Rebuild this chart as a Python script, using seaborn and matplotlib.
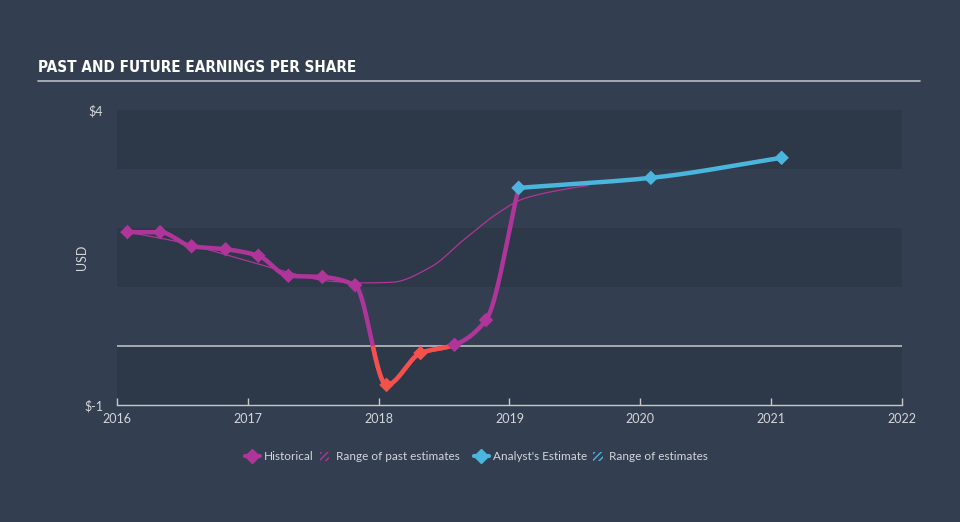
import numpy as np
import pandas as pd
import matplotlib
matplotlib.use("Agg")
import matplotlib.pyplot as plt
from matplotlib.lines import Line2D
from matplotlib.patches import Patch, Rectangle
from matplotlib.legend_handler import HandlerPatch
import seaborn as sns

# ---- data ----
hist_x = [2016.08, 2016.33, 2016.57, 2016.83, 2017.08, 2017.31, 2017.57, 2017.82,
          2018.06, 2018.32, 2018.58, 2018.82, 2019.07]
hist_y = [1.93, 1.93, 1.69, 1.64, 1.53, 1.19, 1.17, 1.03,
          -0.66, -0.12, 0.02, 0.44, 2.68]
est_x = [2019.07, 2020.08, 2021.08]
est_y = [2.68, 2.85, 3.19]
past_range_x = [2016.08, 2016.48, 2016.92, 2017.31, 2017.62, 2017.9, 2018.1,
                2018.4, 2018.65, 2018.91, 2019.1, 2019.43, 2019.6]
past_range_y = [1.93, 1.76, 1.49, 1.25, 1.10, 1.07, 1.08,
                1.34, 1.80, 2.25, 2.49, 2.66, 2.72]
x_ticks = [2016, 2017, 2018, 2019, 2020, 2021, 2022]
y_ticks = [-1, 4]
y_tick_labels = ["$-1", "$4"]

BG = "#333f50"
BAND = "#2d3948"
PURPLE = "#b0359a"
RED = "#f5514b"
BLUE = "#4ab6dd"
TXT = "#d3d6da"


def pchip(x, y, n=400):
    x = np.asarray(x, float); y = np.asarray(y, float)
    h = np.diff(x); d = np.diff(y) / h
    m = np.zeros_like(y)
    for k in range(1, len(x) - 1):
        if d[k - 1] * d[k] > 0:
            w1 = 2 * h[k] + h[k - 1]; w2 = h[k] + 2 * h[k - 1]
            m[k] = (w1 + w2) / (w1 / d[k - 1] + w2 / d[k])
    m[0] = d[0]; m[-1] = d[-1]
    xs = np.linspace(x[0], x[-1], n)
    idx = np.clip(np.searchsorted(x, xs) - 1, 0, len(x) - 2)
    t = (xs - x[idx]) / h[idx]
    h00 = 2 * t**3 - 3 * t**2 + 1; h10 = t**3 - 2 * t**2 + t
    h01 = -2 * t**3 + 3 * t**2; h11 = t**3 - t**2
    ys = h00 * y[idx] + h10 * h[idx] * m[idx] + h01 * y[idx + 1] + h11 * h[idx] * m[idx + 1]
    return xs, ys


class SmallHatch(HandlerPatch):
    def create_artists(self, legend, orig_handle, xdescent, ydescent, width, height,
                       fontsize, trans):
        w = 7
        r = Rectangle((-xdescent + (width - w) / 2, -ydescent), w, height,
                      facecolor="none", edgecolor=orig_handle.get_edgecolor(),
                      hatch="/////", lw=0, transform=trans)
        return [r]


sns.set_style("dark")
plt.rcParams["font.family"] = ["Lato", "DejaVu Sans"]
plt.rcParams["hatch.linewidth"] = 1.0

fig = plt.figure(figsize=(9.6, 5.22), dpi=100, facecolor=BG)
ax = fig.add_axes([117 / 960, 1 - 405 / 522, 785 / 960, 295 / 522])
ax.set_facecolor(BG)

# alternating bands
for lo in range(-1, 4):
    if (lo + 1) % 2 == 0:
        ax.axhspan(lo, lo + 1, color=BAND, lw=0, zorder=0)
ax.axhline(0, color="#c8c8c8", lw=1.1, zorder=1)

# range of past estimates
px, py = pchip(past_range_x, past_range_y)
sns.lineplot(x=px, y=py, ax=ax, color=PURPLE, lw=0.9, sort=False, zorder=2)

# historical
hx, hy = pchip(hist_x, hist_y, n=800)
sns.lineplot(x=hx, y=hy, ax=ax, color=PURPLE, lw=3.2, sort=False, zorder=3)
ry = np.where(hy <= 0.005, hy, np.nan)
ax.plot(hx, ry, color=RED, lw=3.2, zorder=4, solid_capstyle="butt")
hcols = [RED if v < 0 else PURPLE for v in hist_y]
sns.scatterplot(x=hist_x, y=hist_y, ax=ax, marker="D", s=55, c=hcols,
                edgecolor="none", zorder=5)

# estimates
ex, ey = pchip(est_x, est_y)
sns.lineplot(x=ex, y=ey, ax=ax, color=BLUE, lw=3.2, sort=False, zorder=6)
sns.scatterplot(x=est_x, y=est_y, ax=ax, marker="D", s=55, color=BLUE,
                edgecolor="none", zorder=7)

ax.set_xlim(2016, 2022)
ax.set_ylim(-1, 4)
ax.set_xticks(x_ticks)
ax.set_xticklabels([str(t) for t in x_ticks])
ax.set_yticks(y_ticks)
ax.set_yticklabels(y_tick_labels)
ax.tick_params(axis="x", colors="#c8c8c8", labelcolor=TXT, labelsize=9,
               length=5, width=1, direction="in", bottom=True, pad=6)
ax.tick_params(axis="y", colors=TXT, labelsize=9, length=0, pad=10)
ax.grid(False)
for s in ["top", "right", "left"]:
    ax.spines[s].set_visible(False)
ax.spines["bottom"].set_color("#c8c8c8")
ax.spines["bottom"].set_linewidth(1)
ax.set_xlabel("")
ax.set_ylabel("USD", color=TXT, fontsize=9, labelpad=12)
ax.yaxis.set_label_coords(-0.037, 0.5)

# title
fig.text(38 / 960, 1 - 68 / 522, "PAST AND FUTURE EARNINGS PER SHARE",
         color="white", fontsize=11, fontweight="bold", fontstretch="condensed",
         family=["DejaVu Sans"], va="center", ha="left")
fig.add_artist(Line2D([38 / 960, 920 / 960], [1 - 81 / 522, 1 - 81 / 522],
                      color="#b9bdc3", lw=1.2))

# legends (two groups)
hm = {Patch: SmallHatch()}
common = dict(loc="center", frameon=False, fontsize=8.5, labelcolor=TXT, ncol=2,
              handlelength=1.3, handletextpad=0.3, columnspacing=0.3, handler_map=hm)
fig.legend([Line2D([0], [0], color=PURPLE, lw=3, marker="D", markersize=7),
            Patch(facecolor="none", edgecolor=PURPLE)],
           ["Historical", "Range of past estimates"],
           bbox_to_anchor=(352 / 960, 1 - 457 / 522), **common)
fig.legend([Line2D([0], [0], color=BLUE, lw=3, marker="D", markersize=7),
            Patch(facecolor="none", edgecolor=BLUE)],
           ["Analyst's Estimate", "Range of estimates"],
           bbox_to_anchor=(591 / 960, 1 - 457 / 522), **common)

fig.savefig("out.png", dpi=100, facecolor=BG)
